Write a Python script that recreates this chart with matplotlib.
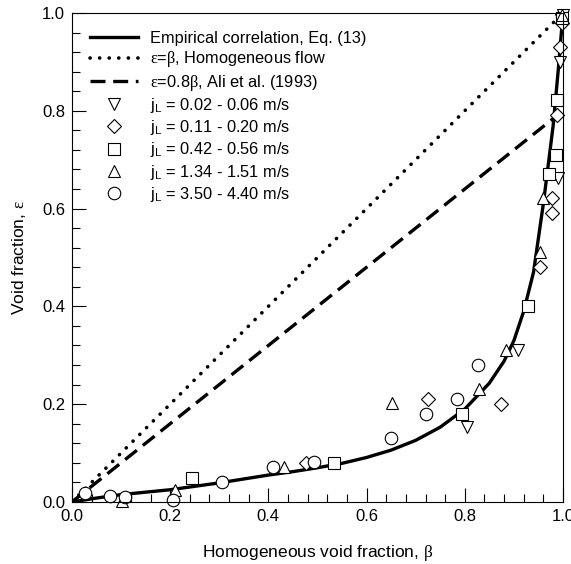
import numpy as np
import matplotlib
matplotlib.use("Agg")
import matplotlib.pyplot as plt

plt.rcParams['font.family'] = ['Liberation Sans', 'DejaVu Sans']
plt.rcParams['mathtext.fontset'] = 'custom'
plt.rcParams['mathtext.rm'] = 'Liberation Serif'
plt.rcParams['mathtext.it'] = 'Liberation Serif:italic'
plt.rcParams['mathtext.sf'] = 'Liberation Sans'

# correlation curve
curve_beta = [0, 0.05, 0.1, 0.2, 0.3, 0.35, 0.4, 0.45, 0.5, 0.55, 0.6, 0.65, 0.7, 0.75,
              0.8, 0.85, 0.88, 0.9, 0.92, 0.94, 0.96, 0.97, 0.98, 0.99, 0.995, 1.0]
curve_eps = [0, 0.008, 0.015, 0.025, 0.039, 0.047, 0.055, 0.062, 0.070, 0.079, 0.091,
             0.106, 0.126, 0.153, 0.190, 0.243, 0.288, 0.33, 0.39, 0.47, 0.61, 0.69,
             0.77, 0.88, 0.94, 1.0]

line_beta = [0.0, 1.0]
homog_eps = [0.0, 1.0]
ali_beta = [0.0, 0.985]
ali_eps = [0.0, 0.788]

# jL = 0.02 - 0.06 m/s
b1 = [0.804, 0.909, 0.990, 0.994, 0.995, 0.998, 1.0]
e1 = [0.154, 0.311, 0.662, 0.900, 0.985, 0.99, 0.995]
# jL = 0.11 - 0.20 m/s
b2 = [0.477, 0.726, 0.874, 0.953, 0.977, 0.977, 0.987, 0.994, 0.998]
e2 = [0.080, 0.211, 0.200, 0.481, 0.621, 0.590, 0.791, 0.931, 0.98]
# jL = 0.42 - 0.56 m/s
b3 = [0.244, 0.534, 0.794, 0.928, 0.971, 0.986, 0.987, 0.997]
e3 = [0.050, 0.080, 0.179, 0.401, 0.671, 0.710, 0.822, 0.99]
# jL = 1.34 - 1.51 m/s
b4 = [0.101, 0.210, 0.432, 0.652, 0.829, 0.884, 0.953, 0.960, 0.998]
e4 = [0.001, 0.025, 0.072, 0.202, 0.232, 0.311, 0.512, 0.621, 0.995]
# jL = 3.50 - 4.40 m/s
b5 = [0.026, 0.077, 0.109, 0.206, 0.305, 0.409, 0.493, 0.650, 0.722, 0.785, 0.826]
e5 = [0.019, 0.012, 0.011, 0.004, 0.040, 0.072, 0.081, 0.130, 0.180, 0.211, 0.280]

fig = plt.figure(figsize=(5.71, 5.64), dpi=100)
ax = fig.add_axes([0.126, 0.110, 0.860, 0.867])

ax.plot(curve_beta, curve_eps, 'k-', lw=2.4, label='Empirical correlation, Eq. (13)')
ax.plot(line_beta, homog_eps, 'k', ls=(0, (0.05, 2.6)), lw=2.6, dash_capstyle='round',
        label=r'$\mathrm{\varepsilon}$=$\mathrm{\beta}$, Homogeneous flow')
ax.plot(ali_beta, ali_eps, 'k', ls=(0, (4.5, 2.3)), lw=2.4,
        label=r'$\mathrm{\varepsilon}$=0.8$\mathrm{\beta}$, Ali et al. (1993)')

mk = dict(ls='none', mfc='white', mec='black', mew=0.8, ms=9, clip_on=False)
ax.plot(b1, e1, marker='v', label=r'j$_\mathsf{L}$ = 0.02 - 0.06 m/s', **mk)
ax.plot(b2, e2, marker='D', label=r'j$_\mathsf{L}$ = 0.11 - 0.20 m/s', **dict(mk, ms=7.5))
ax.plot(b3, e3, marker='s', label=r'j$_\mathsf{L}$ = 0.42 - 0.56 m/s', **dict(mk, ms=8))
ax.plot(b4, e4, marker='^', label=r'j$_\mathsf{L}$ = 1.34 - 1.51 m/s', **mk)
ax.plot(b5, e5, marker='o', label=r'j$_\mathsf{L}$ = 3.50 - 4.40 m/s', **mk)

ax.set_xlim(0, 1)
ax.set_ylim(0, 1)
ax.set_xticks(np.arange(0, 1.01, 0.2))
ax.set_yticks(np.arange(0, 1.01, 0.2))
ax.set_xticks(np.arange(0, 1.001, 0.04), minor=True)
ax.set_yticks(np.arange(0, 1.001, 0.04), minor=True)
ax.xaxis.set_major_formatter(plt.FormatStrFormatter('%.1f'))
ax.yaxis.set_major_formatter(plt.FormatStrFormatter('%.1f'))
ax.tick_params(which='both', direction='in', top=False, right=False, labelsize=12)
ax.tick_params(which='major', length=10, width=0.8, pad=5)
ax.tick_params(which='minor', length=6, width=0.8)

ax.set_xlabel(r'Homogeneous void fraction, $\mathrm{\beta}$', fontsize=12.5, labelpad=14)
ax.set_ylabel(r'Void fraction, $\mathrm{\varepsilon}$', fontsize=12.5, labelpad=10)

ax.legend(loc='upper left', frameon=False, fontsize=11.8, handlelength=2.9,
          handletextpad=0.75, labelspacing=0.2, borderaxespad=0.7, borderpad=0.4)

fig.savefig('out.png', dpi=100)
